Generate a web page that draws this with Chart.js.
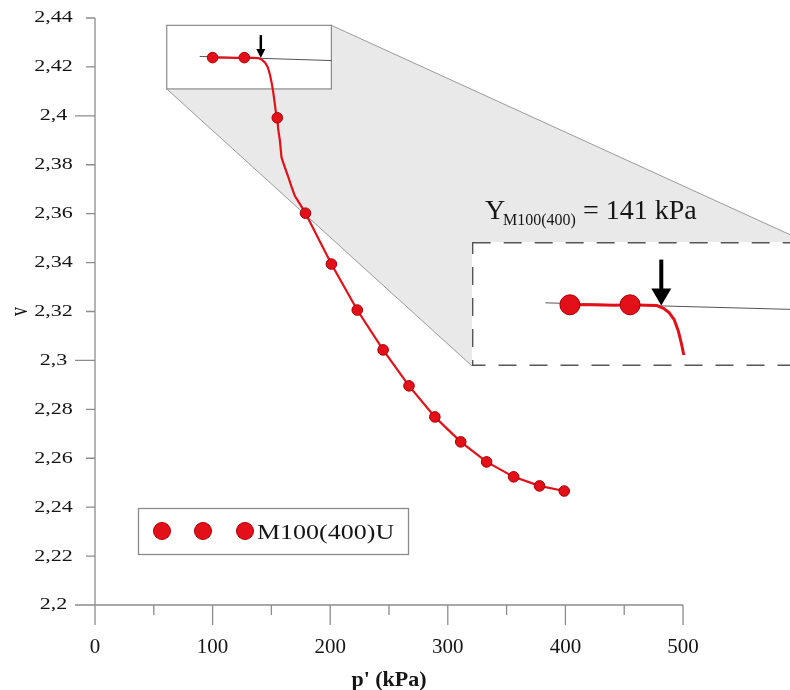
<!DOCTYPE html>
<html>
<head>
<meta charset="utf-8">
<script src="https://cdn.jsdelivr.net/npm/chart.js@4.4.1/dist/chart.umd.min.js"></script>
<style>
  html, body { margin: 0; padding: 0; background: #fff; overflow: hidden; }
  #wrap { position: relative; width: 790px; height: 690px; overflow: hidden; }
  #main { position: absolute; left: 0; top: 0; }
  #inset { position: absolute; left: 472px; top: 242px; }
</style>
</head>
<body>
<div id="wrap">
  <canvas id="main" width="790" height="690"></canvas>
  <canvas id="inset" width="334" height="124"></canvas>
</div>
<script>
// data
const seriesName = 'M100(400)U';
const markerP = [100, 127, 155, 179, 201, 223, 245, 267, 289, 311, 333, 356, 378, 399];
const markerV = [2.4238, 2.4238, 2.3992, 2.3602, 2.3394, 2.3206, 2.3043, 2.2896, 2.2769, 2.2667, 2.2585, 2.2524, 2.2487, 2.2466];
const curveP = [100, 110, 120, 127, 134, 139, 142, 144.5, 146.8, 148.6, 150, 151.3, 152.6, 153.8, 155, 155.8, 157.2, 158.6, 161, 164, 167, 170, 174.2, 179, 201, 223, 245, 267, 289, 311, 333, 356, 378, 399];
const curveV = [2.4238, 2.4238, 2.4237, 2.4238, 2.4237, 2.4236, 2.4229, 2.4218, 2.4200, 2.4172, 2.4140, 2.4105, 2.4060, 2.4015, 2.3992, 2.3945, 2.3900, 2.3830, 2.3795, 2.3755, 2.3712, 2.3672, 2.3640, 2.3602, 2.3394, 2.3206, 2.3043, 2.2896, 2.2769, 2.2667, 2.2585, 2.2524, 2.2487, 2.2466];
const tangentP = [89, 201];
const tangentV = [2.4243, 2.4226];

const yieldP = 141;
const yieldV = 2.4236;
const yieldMain = 'Y';
const yieldSub = 'M100(400)';
const yieldRest = '= 141 kPa';

const xTicks = [0, 100, 200, 300, 400, 500];
const xMinorTicks = [50, 150, 250, 350, 450];
const yTicks = [2.2, 2.22, 2.24, 2.26, 2.28, 2.3, 2.32, 2.34, 2.36, 2.38, 2.4, 2.42, 2.44];
const yLongTicks = [2.2, 2.3, 2.4];
const xTitle = "p' (kPa)";
const yTitle = 'v';

// zoom window shown in the inset
const zoomP = [61, 201];
const zoomV = [2.411, 2.437];

const INSET = { left: 472, top: 242, width: 334, height: 124 };
const SERIF = '"Liberation Serif", "Times New Roman", serif';
const RED = '#e3101a';

function pts(xs, ys) {
  return xs.map((v, i) => ({ x: v, y: ys[i] }));
}

function txt(ctx, s, x, y, font, align, sx, rot, base) {
  ctx.save();
  ctx.translate(x, y);
  ctx.scale(sx || 1, 1);
  if (rot) ctx.rotate(rot);
  ctx.font = font;
  ctx.textAlign = align || 'left';
  ctx.textBaseline = base || 'middle';
  ctx.fillStyle = '#151515';
  ctx.fillText(s, 0, 0);
  ctx.restore();
}

function drawArrow(ctx, x, tipY, len, headW, headH, lw) {
  ctx.save();
  ctx.strokeStyle = '#000';
  ctx.fillStyle = '#000';
  ctx.lineWidth = lw;
  ctx.beginPath();
  ctx.moveTo(x, tipY - len);
  ctx.lineTo(x, tipY - headH + 1);
  ctx.stroke();
  ctx.beginPath();
  ctx.moveTo(x - headW / 2, tipY - headH);
  ctx.lineTo(x + headW / 2, tipY - headH);
  ctx.lineTo(x, tipY);
  ctx.closePath();
  ctx.fill();
  ctx.restore();
}

function makeDatasets(big) {
  return [
    {
      label: seriesName,
      data: pts(markerP, markerV),
      showLine: false,
      pointRadius: big ? 10 : 5.3,
      pointBackgroundColor: RED,
      pointBorderColor: '#a80000',
      pointBorderWidth: 1
    },
    {
      label: 'curve',
      data: pts(curveP, curveV),
      showLine: true,
      borderColor: RED,
      borderWidth: big ? 3 : 2.2,
      pointRadius: 0,
      tension: 0
    },
    {
      label: 'tangent',
      data: pts(tangentP, tangentV),
      showLine: true,
      borderColor: '#555',
      borderWidth: 1,
      pointRadius: 0
    }
  ];
}

const mainPlugin = {
  id: 'mainFrame',
  beforeDraw(chart) {
    const ctx = chart.ctx;
    ctx.save();
    ctx.fillStyle = '#fff';
    ctx.fillRect(0, 0, chart.width, chart.height);
    ctx.restore();
  },
  beforeDatasetsDraw(chart) {
    const { ctx, scales: { x, y } } = chart;
    const bx0 = x.getPixelForValue(zoomP[0]), bx1 = x.getPixelForValue(zoomP[1]);
    const by0 = y.getPixelForValue(zoomV[1]), by1 = y.getPixelForValue(zoomV[0]);
    const ix0 = INSET.left, ix1 = INSET.left + INSET.width;
    const iy0 = INSET.top, iy1 = INSET.top + INSET.height;

    ctx.save();
    // grey projection between zoom box and inset
    ctx.fillStyle = '#e9e9e9';
    ctx.beginPath();
    ctx.moveTo(bx0, by1);
    ctx.lineTo(bx1, by0);
    ctx.lineTo(ix1, iy0);
    ctx.lineTo(ix0, iy1);
    ctx.closePath();
    ctx.fill();
    ctx.strokeStyle = '#9a9a9a';
    ctx.lineWidth = 1;
    ctx.beginPath();
    ctx.moveTo(bx0, by1); ctx.lineTo(ix0, iy1);
    ctx.moveTo(bx1, by0); ctx.lineTo(ix1, iy0);
    ctx.stroke();
    // zoom box
    ctx.fillStyle = '#fff';
    ctx.fillRect(bx0, by0, bx1 - bx0, by1 - by0);
    ctx.strokeStyle = '#8a8a8a';
    ctx.lineWidth = 1.2;
    ctx.strokeRect(bx0, by0, bx1 - bx0, by1 - by0);

    // axes
    ctx.strokeStyle = '#8c8c8c';
    ctx.lineWidth = 1.3;
    const ax = x.getPixelForValue(xTicks[0]);
    const ay = y.getPixelForValue(yTicks[0]);
    ctx.beginPath();
    ctx.moveTo(ax, y.getPixelForValue(yTicks[yTicks.length - 1]));
    ctx.lineTo(ax, ay);
    ctx.moveTo(ax, ay);
    ctx.lineTo(x.getPixelForValue(xTicks[xTicks.length - 1]), ay);
    yTicks.forEach(v => {
      const py = y.getPixelForValue(v);
      const len = yLongTicks.includes(v) ? 20 : 9;
      ctx.moveTo(ax - len, py); ctx.lineTo(ax, py);
    });
    xTicks.forEach(v => {
      const px = x.getPixelForValue(v);
      ctx.moveTo(px, ay); ctx.lineTo(px, ay + 20);
    });
    xMinorTicks.forEach(v => {
      const px = x.getPixelForValue(v);
      ctx.moveTo(px, ay); ctx.lineTo(px, ay + 10);
    });
    ctx.stroke();
    ctx.restore();

    // tick labels
    yTicks.forEach(v => {
      txt(ctx, String(v).replace('.', ','), 53.5, y.getPixelForValue(v), '17px ' + SERIF, 'center', 1.3);
    });
    xTicks.forEach(v => {
      txt(ctx, String(v), x.getPixelForValue(v), ay + 42, '21px ' + SERIF, 'center', 1);
    });
    txt(ctx, xTitle, (x.left + x.right) / 2, ay + 75, 'bold 22px ' + SERIF, 'center', 1);
    txt(ctx, yTitle, 21, (y.top + y.bottom) / 2, '18px ' + SERIF, 'center', 1.35, -Math.PI / 2);
  },
  afterDatasetsDraw(chart) {
    const { ctx, scales: { x, y } } = chart;
    drawArrow(ctx, x.getPixelForValue(yieldP), y.getPixelForValue(yieldV), 23, 9, 9, 2.5);

    // yield annotation above inset
    const tx = 485, tb = 218.5;
    txt(ctx, yieldMain, tx, tb, '28px ' + SERIF, 'left', 1, 0, 'alphabetic');
    txt(ctx, yieldSub, tx + 18, tb + 6.5, '16px ' + SERIF, 'left', 1, 0, 'alphabetic');
    txt(ctx, yieldRest, 583, tb, '28px ' + SERIF, 'left', 1, 0, 'alphabetic');

    // legend
    ctx.save();
    ctx.fillStyle = '#fff';
    ctx.fillRect(138.5, 508.5, 270, 46);
    ctx.strokeStyle = '#8a8a8a';
    ctx.lineWidth = 1.3;
    ctx.strokeRect(138.5, 508.5, 270, 46);
    [162, 203, 245].forEach(cx => {
      ctx.beginPath();
      ctx.arc(cx, 531, 8.5, 0, Math.PI * 2);
      ctx.fillStyle = RED;
      ctx.fill();
      ctx.strokeStyle = '#b00000';
      ctx.lineWidth = 1;
      ctx.stroke();
    });
    ctx.restore();
    txt(ctx, seriesName, 257, 538.5, '20px ' + SERIF, 'left', 1.3, 0, 'alphabetic');
  }
};

const insetPlugin = {
  id: 'insetFrame',
  beforeDraw(chart) {
    const ctx = chart.ctx;
    ctx.save();
    ctx.fillStyle = '#fff';
    ctx.fillRect(0, 0, chart.width, chart.height);
    ctx.restore();
  },
  afterDatasetsDraw(chart) {
    const { ctx, scales: { x, y } } = chart;
    drawArrow(ctx, x.getPixelForValue(yieldP), y.getPixelForValue(yieldV), 46, 20, 17, 4);
    ctx.save();
    ctx.strokeStyle = '#555';
    ctx.lineWidth = 1.4;
    ctx.setLineDash([18, 13]);
    ctx.strokeRect(0.7, 0.7, chart.width - 1.4, chart.height - 1.4);
    ctx.restore();
  }
};

const common = {
  responsive: false,
  animation: false,
  devicePixelRatio: 1,
  events: [],
  plugins: { legend: { display: false }, tooltip: { enabled: false } }
};

new Chart(document.getElementById('main'), {
  type: 'scatter',
  data: { datasets: makeDatasets(false) },
  options: Object.assign({}, common, {
    layout: { padding: { left: 95, right: 107, top: 18, bottom: 85 } },
    scales: {
      x: { type: 'linear', display: false, min: xTicks[0], max: xTicks[xTicks.length - 1] },
      y: { type: 'linear', display: false, min: yTicks[0], max: yTicks[yTicks.length - 1] }
    }
  }),
  plugins: [mainPlugin]
});

new Chart(document.getElementById('inset'), {
  type: 'scatter',
  data: { datasets: makeDatasets(true) },
  options: Object.assign({}, common, {
    layout: { padding: 0 },
    scales: {
      x: { type: 'linear', display: false, min: zoomP[0], max: zoomP[1] },
      y: { type: 'linear', display: false, min: zoomV[0], max: zoomV[1] }
    }
  }),
  plugins: [insetPlugin]
});
</script>
</body>
</html>
